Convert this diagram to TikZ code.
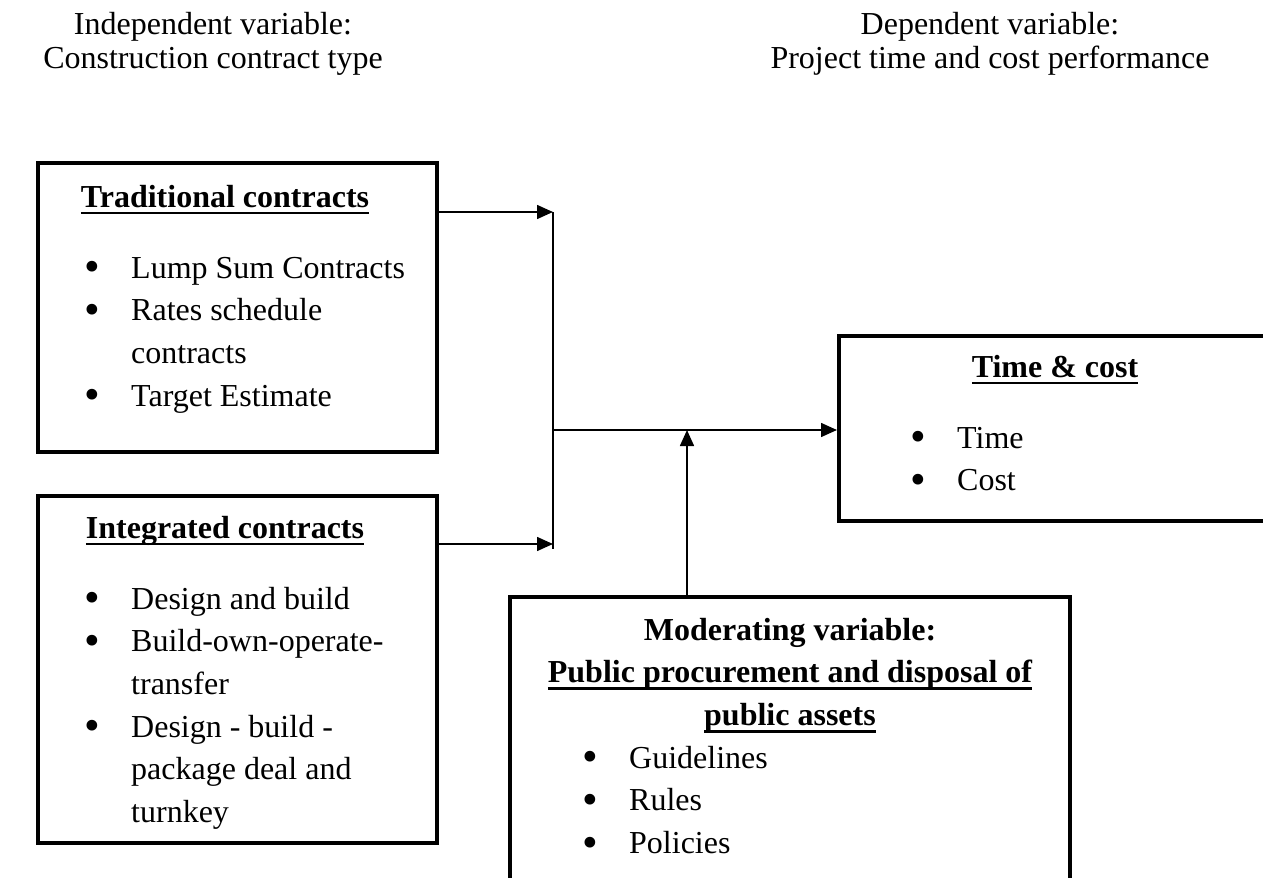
\documentclass[tikz,border=0pt]{standalone}
\usepackage{fontspec}
\setmainfont{Liberation Serif}
\usetikzlibrary{positioning}
\usetikzlibrary{fit}
\usetikzlibrary{arrows.meta}
\tikzset{>={Triangle[length=6pt,width=5.2pt]}}
\tikzset{box/.style={draw, line width=1.5pt, inner sep=0pt}}
\tikzset{txt/.style={inner sep=0pt, font=\fontsize{12}{16}\selectfont}}
\tikzset{head/.style={inner sep=0pt, font=\fontsize{12}{12.75}\selectfont}}
\tikzset{link/.style={line width=0.75pt}}
\newcommand{\ulbold}[1]{\setbox0\hbox{\bfseries #1}\rlap{\copy0}\rule[-2.8pt]{\wd0}{1pt}}
\newcommand{\itm}{\raisebox{-1.4pt}{\scalebox{1.4}{\textbullet}}}

\begin{document}
\begin{tikzpicture}[x=0.375pt, y=-0.375pt]
\clip (0,0) rectangle (1263,878);

\node (indep) [head, anchor=base] at (213,35) {\begin{tabular}[t]{@{}c@{}}Independent variable:\\ Construction contract type\end{tabular}};
\node (dep) [head, anchor=base] at (990,35) {\begin{tabular}[t]{@{}c@{}}Dependent variable:\\ Project time and cost performance\end{tabular}};

\node (trad) [box, fit={(38,163) (437,452)}] {};
\node (integ) [box, fit={(38,496) (437,843)}] {};
\node (timecost) [box, fit={(839,336) (1268,521)}] {};
\node (moder) [box, fit={(510,597) (1070,900)}] {};

\node (tradtitle) [txt, anchor=base] at (225,207) {\ulbold{Traditional contracts}};
\node (tradlist) [txt, anchor=base west] at (84,278) {\begin{tabular}[t]{@{}p{17.5pt}@{}l@{}}
\itm & Lump Sum Contracts\\ \itm & Rates schedule\\ & contracts\\ \itm & Target Estimate\end{tabular}};

\node (integtitle) [txt, anchor=base] at (225,538) {\ulbold{Integrated contracts}};
\node (integlist) [txt, anchor=base west] at (84,609) {\begin{tabular}[t]{@{}p{17.5pt}@{}l@{}}
\itm & Design and build\\ \itm & Build-own-operate-\\ & transfer\\ \itm & Design - build -\\ & package deal and\\ & turnkey\end{tabular}};

\node (tctitle) [txt, anchor=base] at (1055,377) {\ulbold{Time \& cost}};
\node (tclist) [txt, anchor=base west] at (910,448) {\begin{tabular}[t]{@{}p{17.5pt}@{}l@{}}
\itm & Time\\ \itm & Cost\end{tabular}};

\node (modtitle) [txt, anchor=base] at (790,640) {\begin{tabular}[t]{@{}c@{}}
\bfseries Moderating variable:\\ \ulbold{Public procurement and disposal of}\\ \ulbold{public assets}\end{tabular}};
\node (modlist) [txt, anchor=base west] at (582,768) {\begin{tabular}[t]{@{}p{17.5pt}@{}l@{}}
\itm & Guidelines\\ \itm & Rules\\ \itm & Policies\end{tabular}};

\coordinate (jtop) at (553,212);
\coordinate (jin) at (553,544);
\coordinate (jbot) at (553,549);
\coordinate (jmid) at (553,430);
\coordinate (modjoin) at (687,430);

\draw[link,->] (trad.east |- jtop) -- (jtop);
\draw[link,->] (integ.east |- jin) -- (jin);
\draw[link] (jtop) -- (jbot);
\draw[link,->] (jmid) -- (jmid -| timecost.west);
\draw[link,->] (modjoin |- moder.north) -- (modjoin);
\end{tikzpicture}
\end{document}
